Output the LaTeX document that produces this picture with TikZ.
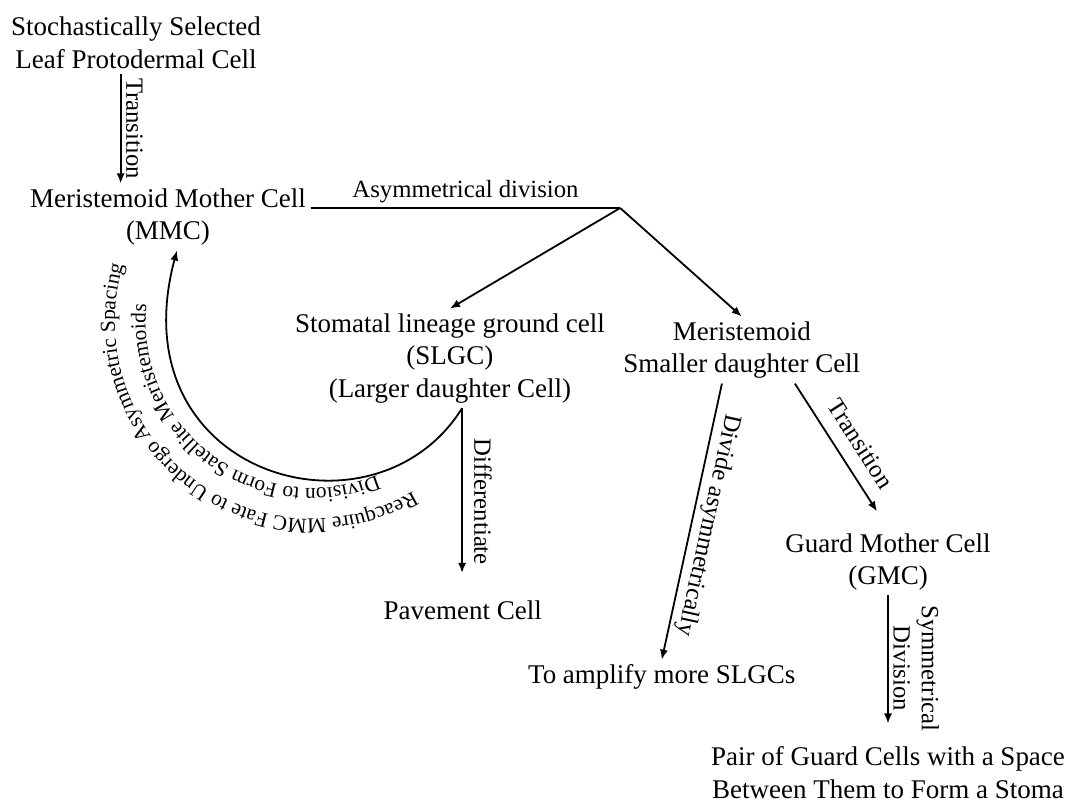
\documentclass[tikz,border=0pt]{standalone}
\usepackage{fontspec}
\setmainfont{Liberation Serif}
\usetikzlibrary{arrows.meta,positioning,
                decorations.text,calc}

\tikzset{
  cellnode/.style={align=center, font=\fontsize{12}{14.5}\selectfont, inner sep=2pt},
  arr/.style={-{Latex[length=4.5pt,width=3.6pt]}, thick},
  lbl/.style={midway, above, sloped, allow upside down, align=center,
              inner sep=2pt, font=\fontsize{11}{12.5}\selectfont},
  curvetext/.style={decorate, decoration={text along path, text align=center, text={#1}}}
}

\begin{document}
\begin{tikzpicture}

\useasboundingbox (0,0) rectangle (16.75,12.55);

% cells
\node[cellnode] (leaf) at (2.125,11.88) {Stochastically Selected\\Leaf Protodermal Cell};
\node[cellnode] (mmc) at (2.625,9.16) {Meristemoid Mother Cell\\(MMC)};
\node[cellnode] (slgc) at (7.03,6.95) {Stomatal lineage ground cell\\(SLGC)\\(Larger daughter Cell)};
\node[cellnode] (mer) at (11.59,7.08) {Meristemoid\\Smaller daughter Cell};
\node[cellnode] (pav) at (7.23,3.02) {Pavement Cell};
\node[cellnode] (amp) at (10.34,1.97) {To amplify more SLGCs};
\node[cellnode] (gmc) at (13.875,3.77) {Guard Mother Cell\\(GMC)};
\node[cellnode] (pair) at (13.875,0.48) {Pair of Guard Cells with a Space\\Between Them to Form a Stoma};

\coordinate (split) at (9.69,9.30);
\coordinate (t1) at ([xshift=-0.24cm]leaf.south);
\coordinate (fork) at ([xshift=0.19cm]slgc.south);
\coordinate (ctr) at (4.875,7.52);

% connectors
\draw[arr] (t1) -- node[lbl] {Transition} (t1 |- mmc.north);
\draw[thick] (mmc.east |- split) -- node[lbl] {Asymmetrical division} (split);
\draw[arr] (split) -- (slgc.north);
\draw[arr] (split) -- (mer.north);
\draw[arr, shorten >=10pt] (fork) -- node[lbl, above=3pt] {Differentiate} (fork |- pav.north);
\draw[arr] ([xshift=-0.31cm]mer.south) -- node[lbl] {Divide asymmetrically} (amp.north);
\draw[arr, shorten >=9pt] ([xshift=0.83cm]mer.south) -- node[lbl, above=4pt] {Transition} (gmc.north);
\draw[arr, shorten >=8pt] (gmc.south) -- node[lbl] {Symmetrical\\Division} (pair.north);

% back to MMC
\draw[arr] (fork) .. controls +(-122:2.6) and +(-105:3.65) .. ([xshift=0.14cm]mmc.south);
\path[curvetext={|\fontsize{9.5}{11}\selectfont|Division to Form Satellite Meristemoids}]
  ([shift={(-36.5:2.6)}]ctr) arc[start angle=-36.5, end angle=-216.5, radius=2.6];
\path[curvetext={|\fontsize{9.5}{11}\selectfont|Reacquire MMC Fate to Undergo Asymmetric Spacing}]
  ([shift={(-38:3.08)}]ctr) arc[start angle=-38, end angle=-218, radius=3.08];

\end{tikzpicture}
\end{document}
